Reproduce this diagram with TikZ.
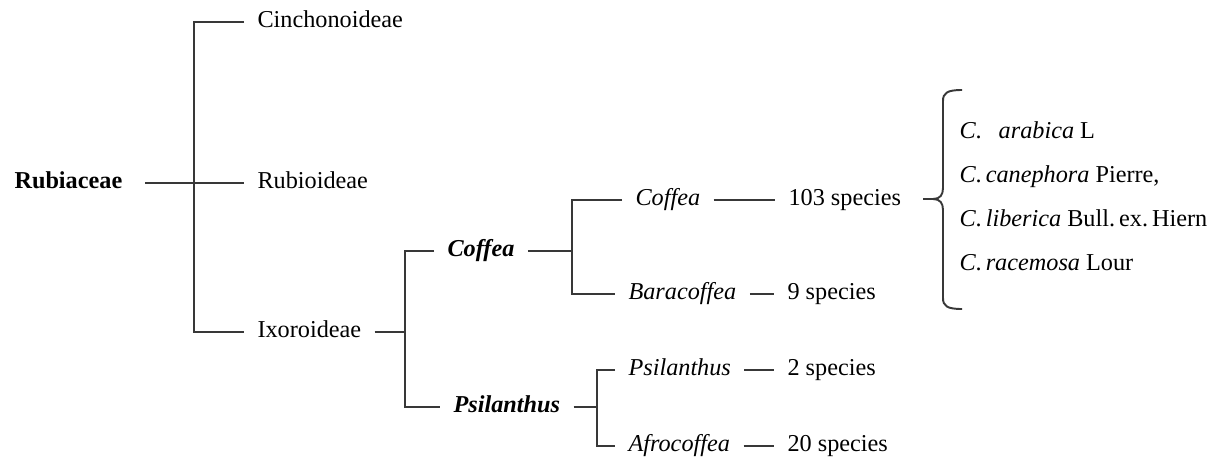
\documentclass[tikz,border=0pt]{standalone}
\usepackage{fontspec}
\setmainfont{Liberation Serif}
\newcommand{\taxfont}{\fontsize{13.8pt}{16pt}\selectfont}
\tikzset{
    taxon/.style={anchor=west, inner xsep=7.5pt, inner ysep=0pt,
                  text height=1.5ex, text depth=.25ex, font=\taxfont},
    family/.style={taxon, font=\taxfont\bfseries},
    genus/.style={taxon, font=\taxfont\bfseries\itshape},
    subgenus/.style={taxon, font=\taxfont\itshape},
    branch/.style={draw=black!78, line width=1.1pt},
}

\begin{document}
\begin{tikzpicture}[x=0.02cm, y=-0.02cm]
    \useasboundingbox (0,0) rectangle (1217,463);

    \node[family] (rubiaceae) at (1,183) {Rubiaceae};
    \node[taxon] (cinchona) at (244,22) {Cinchonoideae};
    \node[taxon] (rubioid) at (244,183) {Rubioideae};
    \node[taxon] (ixoroid) at (244,332) {Ixoroideae};
    \coordinate (rootfork) at (194,183);
    \draw[branch, shorten <=5.5pt] (rubiaceae) -- (rubioid);
    \draw[branch] (cinchona) -| (rootfork) |- (ixoroid);

    \node[genus] (coffea) at (434,251) {Coffea};
    \node[genus] (psilanthus) at (440,407) {Psilanthus};
    \coordinate (ixofork) at (405,332);
    \draw[branch] (ixoroid) -- (ixofork);
    \draw[branch] (coffea) -| (ixofork) |- (psilanthus);

    % subgenera of Coffea
    \node[subgenus] (subcoffea) at (622,200) {Coffea};
    \node[subgenus] (baracoffea) at (615,294) {Baracoffea};
    \node[taxon] (count103) at (775,200) {103 species};
    \node[taxon] (count9) at (774,294) {9 species};
    \coordinate (coffork) at (572,251);
    \draw[branch] (coffea) -- (coffork);
    \draw[branch] (subcoffea) -| (coffork) |- (baracoffea);
    \draw[branch] (subcoffea) -- (count103);
    \draw[branch] (baracoffea) -- (count9);

    % subgenera of Psilanthus
    \node[subgenus] (subpsilanthus) at (615,370) {Psilanthus};
    \node[subgenus] (afrocoffea) at (615,446) {Afrocoffea};
    \node[taxon] (count2) at (774,370) {2 species};
    \node[taxon] (count20) at (774,446) {20 species};
    \coordinate (psifork) at (597,407);
    \draw[branch] (psilanthus) -- (psifork);
    \draw[branch] (subpsilanthus) -| (psifork) |- (afrocoffea);
    \draw[branch] (subpsilanthus) -- (count2);
    \draw[branch] (afrocoffea) -- (count20);

    % brace with the cultivated species
    \coordinate (bracetip) at (923,199);
    \draw[branch] (962,90) .. controls (947,90) and (943,93) .. (943,101)
        -- (943,188) .. controls (943,195) and (940,199) .. (933,199) -- (bracetip);
    \draw[branch] (933,199) .. controls (940,199) and (943,203) .. (943,210)
        -- (943,298) .. controls (943,306) and (947,309) .. (962,309);
    \node[taxon] (arabica) at (946,133) {\textit{C}.\hspace{0.7em}\textit{arabica} L};
    \node[taxon] (canephora) at (946,177) {\textit{C}.\,\textit{canephora} Pierre,};
    \node[taxon] (liberica) at (946,221) {\textit{C}.\,\textit{liberica} Bull.\,ex.\,Hiern};
    \node[taxon] (racemosa) at (946,265) {\textit{C}.\,\textit{racemosa} Lour};
\end{tikzpicture}
\end{document}
